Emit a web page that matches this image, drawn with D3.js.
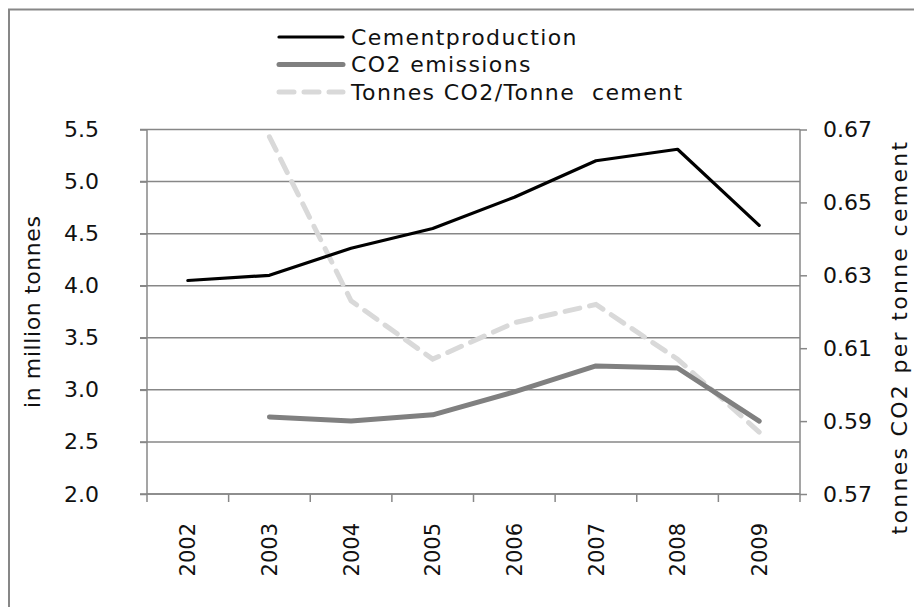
<!DOCTYPE html>
<html>
<head>
<meta charset="utf-8">
<script src="https://cdn.jsdelivr.net/npm/d3@7"></script>
<style>
  body { margin: 0; background: #fff; }
  svg text { font-family: "DejaVu Sans", sans-serif; fill: #111; }
</style>
</head>
<body>
<div id="chart"></div>
<script>
const years = ["2002", "2003", "2004", "2005", "2006", "2007", "2008", "2009"];
const cementProduction = [4.05, 4.10, 4.36, 4.55, 4.85, 5.20, 5.31, 4.58];
const co2Emissions = [null, 2.74, 2.70, 2.76, 2.98, 3.23, 3.21, 2.70];
const co2PerTonne = [null, 0.668, 0.623, 0.607, 0.617, 0.622, 0.607, 0.587];
const leftTicks = [2.0, 2.5, 3.0, 3.5, 4.0, 4.5, 5.0, 5.5];
const rightTicks = [0.57, 0.59, 0.61, 0.63, 0.65, 0.67];

const width = 914, height = 607;
const plot = { left: 147, right: 800, top: 129.5, bottom: 494 };
const axisGrey = "#878787";

const svg = d3.select("#chart").append("svg")
  .attr("width", width)
  .attr("height", height);

// outer frame (continues past right and bottom edges)
svg.append("path")
  .attr("d", `M9,${height + 5} V9.5 H${width + 5}`)
  .attr("fill", "none")
  .attr("stroke", axisGrey)
  .attr("stroke-width", 2);

const x = d3.scaleBand().domain(years).range([plot.left, plot.right]);
const yL = d3.scaleLinear().domain([2.0, 5.5]).range([plot.bottom, plot.top]);
const yR = d3.scaleLinear().domain([0.57, 0.67]).range([plot.bottom, plot.top]);

// gridlines
svg.append("g")
  .selectAll("line")
  .data(leftTicks)
  .join("line")
  .attr("x1", plot.left - 7)
  .attr("x2", plot.right)
  .attr("y1", d => yL(d))
  .attr("y2", d => yL(d))
  .attr("stroke", axisGrey)
  .attr("stroke-width", 1.5);

// left axis
const leftAxis = svg.append("g")
  .attr("transform", `translate(${plot.left},0)`)
  .call(d3.axisLeft(yL).tickValues(leftTicks).tickFormat(d3.format(".1f")).tickSize(7).tickPadding(41));
leftAxis.select(".domain").attr("d", `M0,${plot.top}V${plot.bottom + 8}`);

// right axis
const rightAxis = svg.append("g")
  .attr("transform", `translate(${plot.right},0)`)
  .call(d3.axisRight(yR).tickValues(rightTicks).tickFormat(d3.format(".2f")).tickSize(7).tickPadding(16));
rightAxis.select(".domain").attr("d", `M0,${plot.top}V${plot.bottom + 8}`);

// bottom axis with ticks at category boundaries
const bottom = svg.append("g");
bottom.append("line")
  .attr("x1", plot.left).attr("x2", plot.right)
  .attr("y1", plot.bottom).attr("y2", plot.bottom)
  .attr("stroke", axisGrey).attr("stroke-width", 1.5);
bottom.selectAll("line.tk")
  .data(years.slice(1))
  .join("line")
  .attr("class", "tk")
  .attr("x1", d => x(d)).attr("x2", d => x(d))
  .attr("y1", plot.bottom).attr("y2", plot.bottom + 8)
  .attr("stroke", axisGrey).attr("stroke-width", 1.5);
bottom.selectAll("text")
  .data(years)
  .join("text")
  .attr("transform", d => `translate(${x(d) + x.bandwidth() / 2},523) rotate(-90)`)
  .attr("text-anchor", "end")
  .attr("dy", "0.36em")
  .attr("font-size", 21)
  .text(d => d);

svg.selectAll(".tick line").attr("stroke", axisGrey).attr("stroke-width", 1.5);
svg.selectAll(".domain").attr("stroke", axisGrey).attr("stroke-width", 1.5);
svg.selectAll(".tick text").attr("font-size", 22).attr("fill", "#111");

// axis titles
svg.append("text")
  .attr("transform", `translate(40,${(plot.top + plot.bottom) / 2}) rotate(-90)`)
  .attr("text-anchor", "middle")
  .attr("font-size", 22)
  .attr("letter-spacing", 0.6)
  .text("in million tonnes");

svg.append("text")
  .attr("transform", `translate(907,337) rotate(-90)`)
  .attr("text-anchor", "middle")
  .attr("font-size", 22)
  .attr("letter-spacing", 2.3)
  .text("tonnes CO2 per tonne cement");

// series
const cx = i => x(years[i]) + x.bandwidth() / 2;

const lineL = d3.line()
  .defined(d => d != null)
  .x((d, i) => cx(i))
  .y(d => yL(d));

const lineR = d3.line()
  .defined(d => d != null)
  .x((d, i) => cx(i))
  .y(d => yR(d));

svg.append("path")
  .datum(co2PerTonne)
  .attr("d", lineR)
  .attr("fill", "none")
  .attr("stroke", "#d9d9d9")
  .attr("stroke-width", 5)
  .attr("stroke-dasharray", "15,10")
  .attr("stroke-linecap", "round");

svg.append("path")
  .datum(co2Emissions)
  .attr("d", lineL)
  .attr("fill", "none")
  .attr("stroke", "#808080")
  .attr("stroke-width", 5)
  .attr("stroke-linejoin", "round")
  .attr("stroke-linecap", "round");

svg.append("path")
  .datum(cementProduction)
  .attr("d", lineL)
  .attr("fill", "none")
  .attr("stroke", "#000")
  .attr("stroke-width", 3.2)
  .attr("stroke-linejoin", "round")
  .attr("stroke-linecap", "round");

// legend
const legendItems = [
  { name: "Cementproduction", color: "#000", w: 3.2, dash: null },
  { name: "CO2 emissions", color: "#808080", w: 5, dash: null },
  { name: "Tonnes CO2/Tonne  cement", color: "#d9d9d9", w: 5, dash: "15,10" }
];

const legend = svg.append("g");
const row = legend.selectAll("g")
  .data(legendItems)
  .join("g")
  .attr("transform", (d, i) => `translate(279,${37 + i * 27.5})`);

row.append("line")
  .attr("x1", 0).attr("x2", 64)
  .attr("stroke", d => d.color)
  .attr("stroke-width", d => d.w)
  .attr("stroke-linecap", "round")
  .attr("stroke-dasharray", d => d.dash);

row.append("text")
  .attr("x", 72)
  .attr("dy", "0.36em")
  .attr("font-size", 22)
  .attr("letter-spacing", 1.4)
  .attr("xml:space", "preserve")
  .style("white-space", "pre")
  .text(d => d.name);
</script>
</body>
</html>
